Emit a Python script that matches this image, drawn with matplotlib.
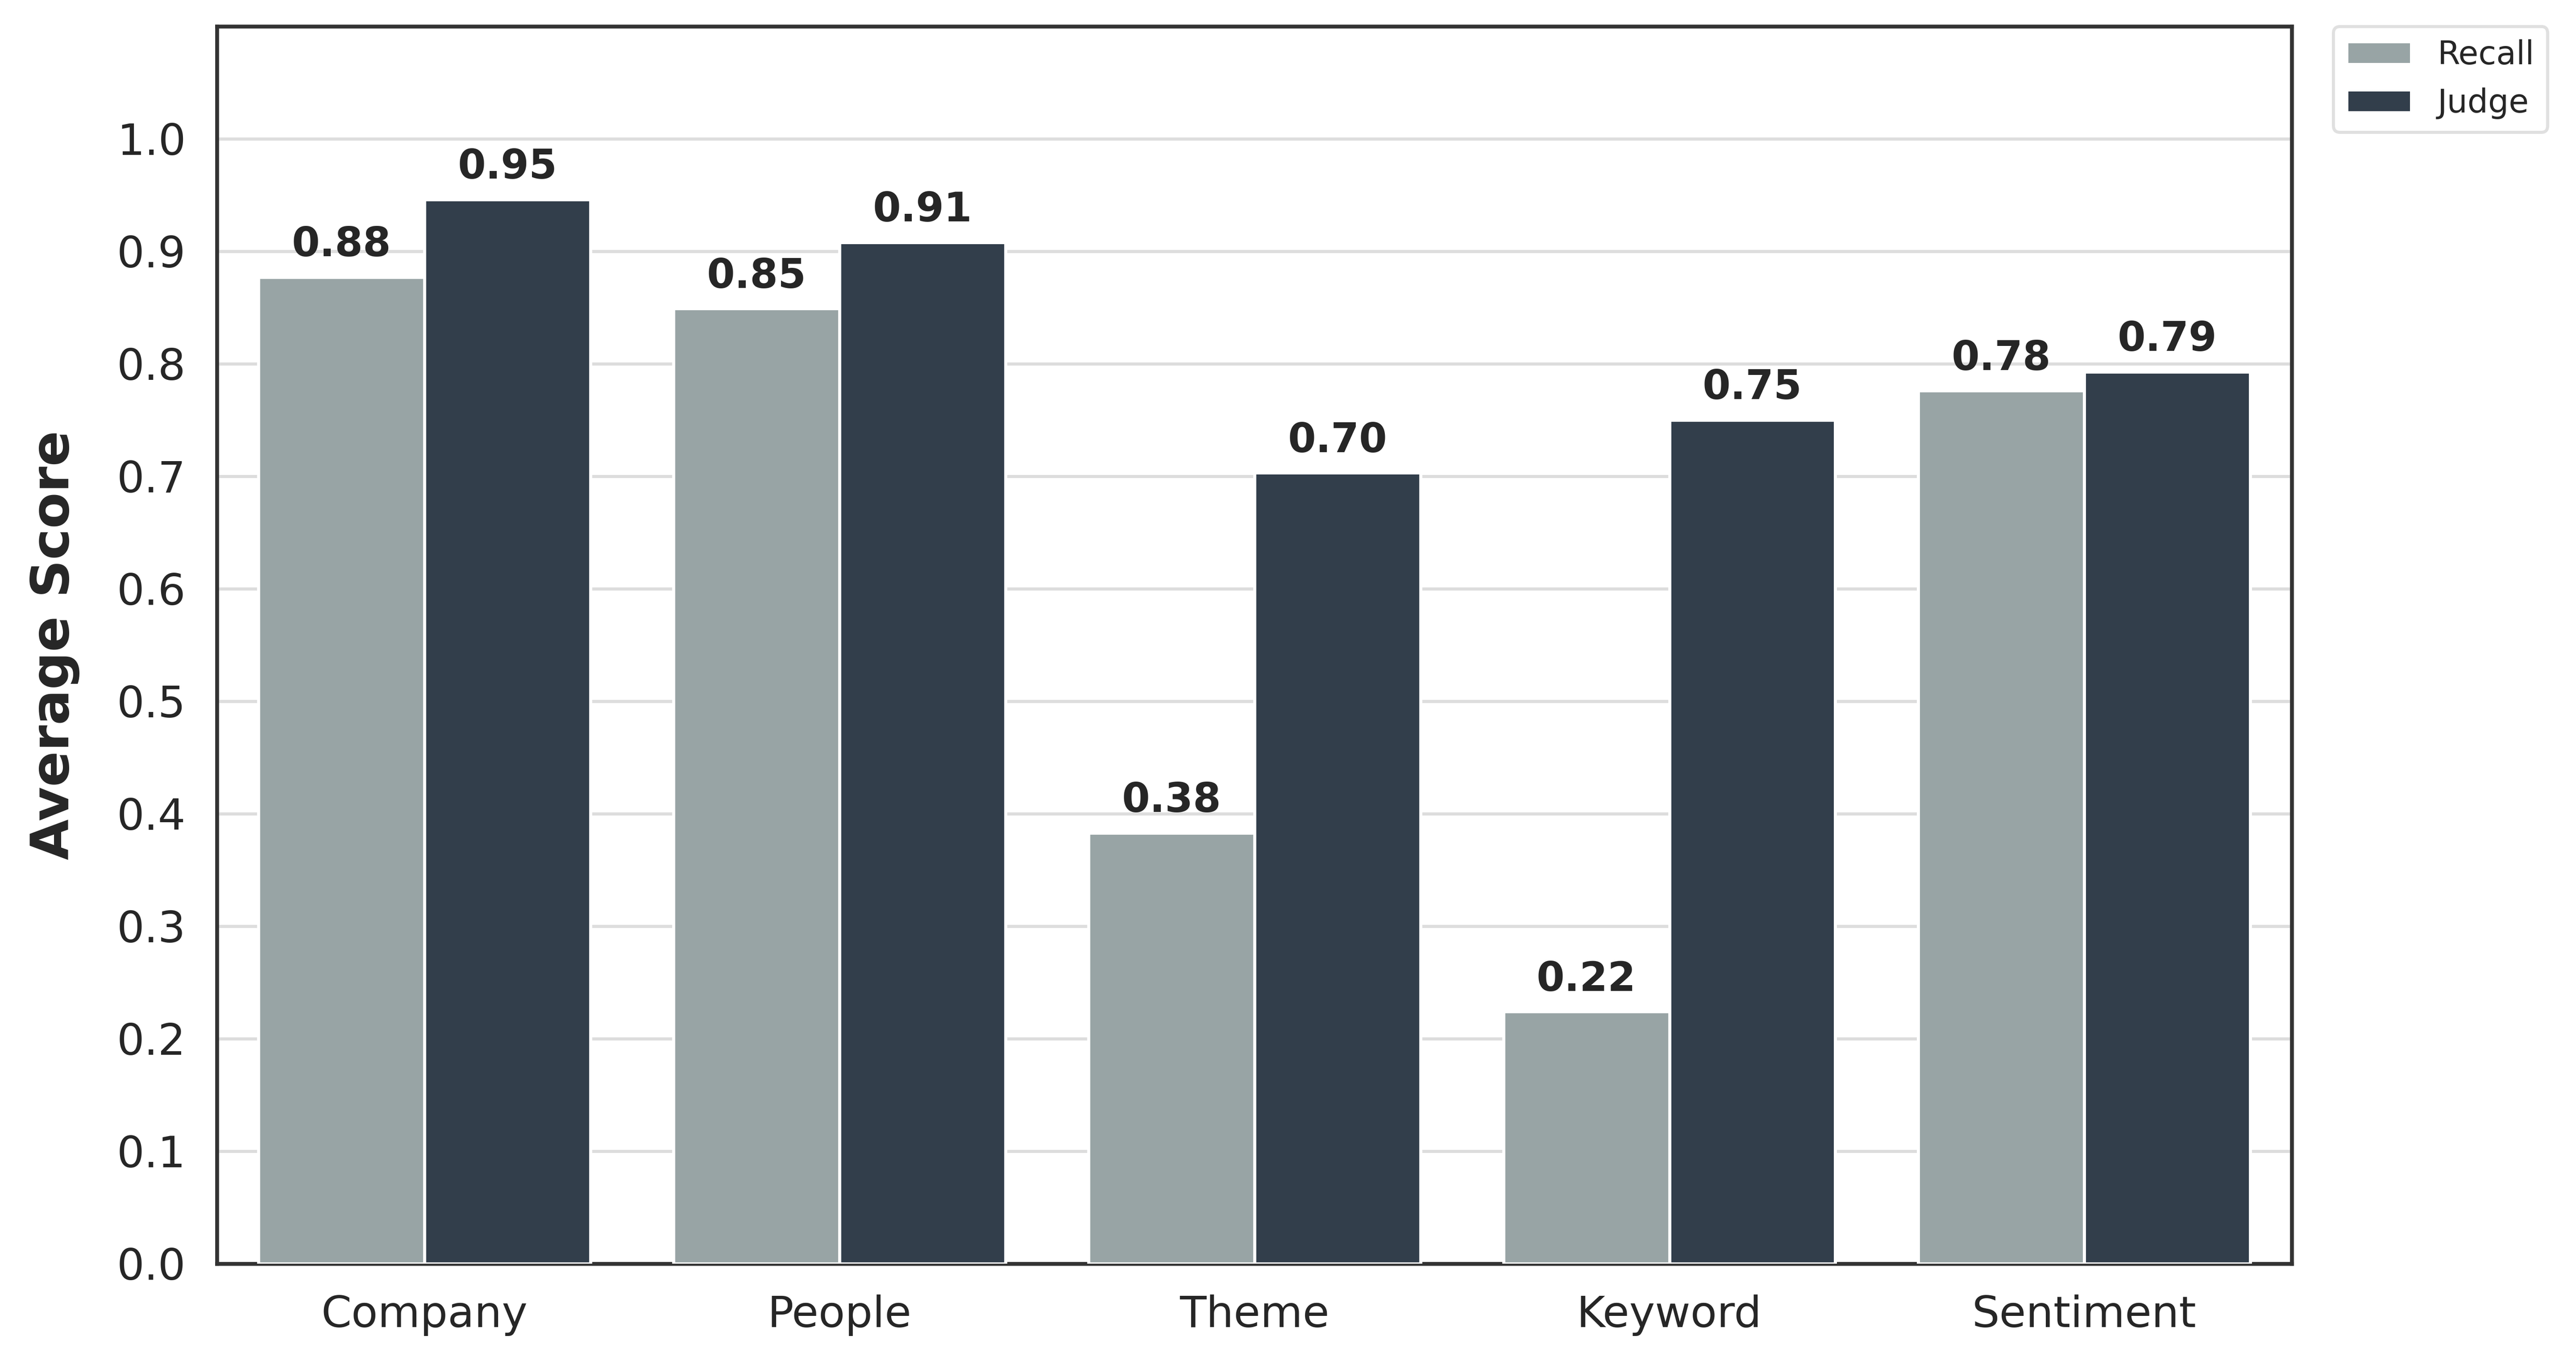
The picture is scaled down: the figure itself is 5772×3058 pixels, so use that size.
import numpy as np
import matplotlib
matplotlib.use("Agg")
import matplotlib.pyplot as plt

categories = ["Company", "People", "Theme", "Keyword", "Sentiment"]
recall = [0.877, 0.849, 0.383, 0.224, 0.776]
judge = [0.946, 0.908, 0.703, 0.750, 0.793]
series_names = ["Recall", "Judge"]
yticks = [0.0, 0.1, 0.2, 0.3, 0.4, 0.5, 0.6, 0.7, 0.8, 0.9, 1.0]

RECALL_COLOR = "#98a4a5"
JUDGE_COLOR = "#323e4b"
TEXT_COLOR = "#262626"

plt.rcParams["font.family"] = "DejaVu Sans"

fig = plt.figure(figsize=(11.544, 6.116), dpi=500)
ax = fig.add_axes([0.0842, 0.0743, 0.8055, 0.9064])

x = np.arange(len(categories))
width = 0.4
bars_r = ax.bar(x - width / 2, recall, width, color=RECALL_COLOR, edgecolor="white",
                linewidth=1.0, label=series_names[0], zorder=3)
bars_j = ax.bar(x + width / 2, judge, width, color=JUDGE_COLOR, edgecolor="white",
                linewidth=1.0, label=series_names[1], zorder=3)

for bars in (bars_r, bars_j):
    for b in bars:
        h = b.get_height()
        ax.annotate(f"{h:.2f}", (b.get_x() + b.get_width() / 2, h),
                    xytext=(0, 4), textcoords="offset points",
                    ha="center", va="bottom", fontsize=13, fontweight="bold",
                    color=TEXT_COLOR, zorder=4)

ax.set_xlim(-0.5, len(categories) - 0.5)
ax.set_ylim(0, 1.1)
ax.set_yticks(yticks)
ax.set_yticklabels([f"{t:.1f}" for t in yticks])
ax.set_xticks(x)
ax.set_xticklabels(categories)
ax.tick_params(axis="both", length=0, labelsize=14, labelcolor=TEXT_COLOR)
ax.tick_params(axis="y", pad=10)
ax.tick_params(axis="x", pad=10)

ax.set_ylabel("Average Score", fontsize=17, fontweight="bold", color=TEXT_COLOR, labelpad=12)

ax.grid(axis="y", color="#dddddd", linewidth=1.0, zorder=0)
ax.set_axisbelow(True)
for s in ax.spines.values():
    s.set_color("#333333")
    s.set_linewidth(1.25)

leg = ax.legend(loc="upper left", bbox_to_anchor=(1.02, 1), borderaxespad=0,
                fontsize=10.5, frameon=True)
leg.get_frame().set_edgecolor("#d9d9d9")
for t in leg.get_texts():
    t.set_color(TEXT_COLOR)

fig.savefig("out.png", dpi=500)
